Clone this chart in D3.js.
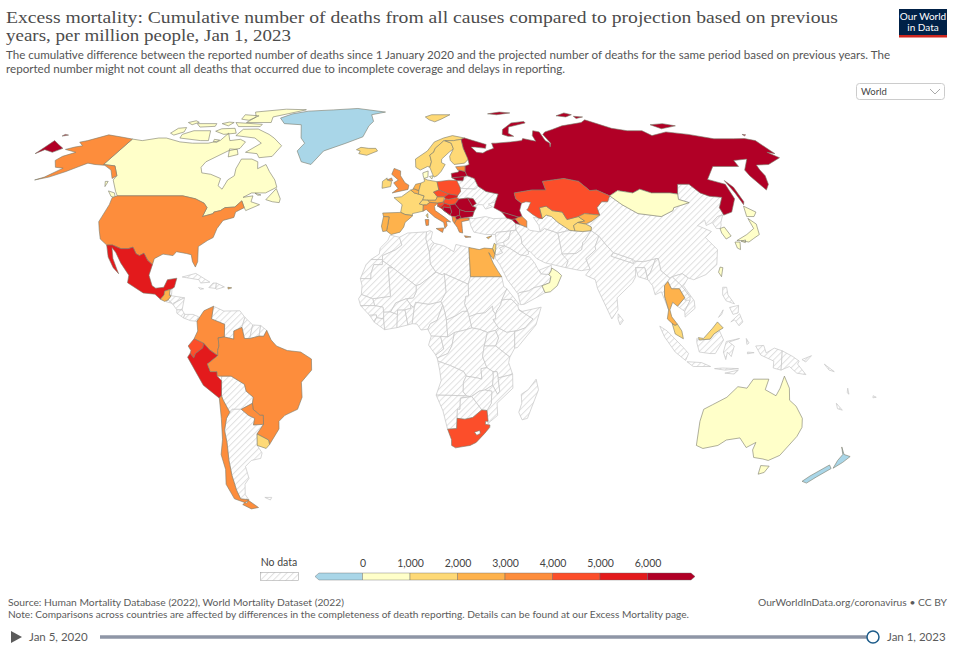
<!DOCTYPE html>
<html>
<head>
<meta charset="utf-8">
<script src="https://cdn.jsdelivr.net/npm/d3@7"></script>
<style>
  html, body { margin: 0; padding: 0; background: #fff; }
  text { font-family: Lato, sans-serif; }
</style>
</head>
<body>
<div id="chart"></div>
<script>
// Legend bins
var binEdges = [0, 1000, 2000, 3000, 4000, 5000, 6000];
var binColors = ["#a9d6e8", "#ffffc9", "#fed976", "#feb24c", "#fd8d3c", "#fc4e2a", "#e31a1c", "#b10026"];
var legendTicks = [0, 1000, 2000, 3000, 4000, 5000, 6000];

// Robinson table
var robLat = [0, 5, 10, 15, 20, 25, 30, 35, 40, 45, 50, 55, 60, 65, 70, 75, 80, 85, 90];
var robLen = [1, .9986, .9954, .99, .9822, .973, .96, .9427, .9216, .8962, .8679, .835, .7986, .7597, .7186, .6732, .6213, .5722, .5322];
var robDist = [0, .062, .124, .186, .248, .31, .372, .434, .4958, .5571, .6176, .6769, .7346, .7903, .8435, .8936, .9394, .9761, 1];

// Cumulative excess deaths per million, read off the colour bands. Not listed = no data
var countryNames = ["Canada", "USA", "Mexico", "Guatemala", "Puerto Rico", "Colombia", "Ecuador", "Peru", "Brazil", "Paraguay", "Uruguay", "Chile",
  "Greenland", "Iceland", "UK", "Ireland", "France", "Spain", "Portugal", "Belgium", "Netherlands", "Germany", "Denmark", "Switzerland", "Austria", "Italy",
  "Poland", "Czechia", "Slovakia", "Hungary", "Slovenia", "Croatia", "Bosnia", "Serbia", "Romania", "Bulgaria", "Macedonia", "Albania", "Greece",
  "Lithuania", "Latvia", "Estonia", "Moldova", "Norway", "Sweden", "Finland", "Russia", "Georgia", "Armenia", "Azerbaijan", "Cyprus", "Israel",
  "Kazakhstan", "Uzbekistan", "Kyrgyzstan", "Tajikistan", "Mongolia", "South Korea", "Japan", "Taiwan", "Thailand", "Malaysia", "Oman", "Egypt", "South Africa", "Australia", "New Zealand"];
var countryValues = [500, 3500, 5500, 2500, 2500, 3500, 4500, 5800, 3500, 3500, 1500, 3500,
  -300, 1500, 3500, 1500, 1500, 2500, 2500, 2500, 2500, 1500, 500, 1500, 2500, 3500,
  4500, 4500, 5500, 4500, 4500, 5500, 6500, 6500, 6500, 6500, 6500, 3500, 3500,
  6500, 6500, 3500, 6500, 1500, 1500, 1500, 6500, 6500, 6500, 3500, 2500, 1500,
  4500, 1500, 2500, 1500, 500, 500, 500, 500, 2500, 1500, 500, 2500, 4500, 500, -300];

// Outlines as lon/lat rings
var shapes = {
  Canada: [[[-141,69.6],[-135,69],[-128,70],[-124,70],[-115,68.5],[-108,68],[-100,68],[-95,69],[-94,72],[-90,69],[-85,69.5],[-81.5,68.5],[-82,66],[-87,65],[-94,61],[-94.5,59],[-92.5,57],[-88,56.5],[-82.5,55],[-82,52.5],[-79.5,51.3],[-79,54.5],[-77,56],[-78,58.5],[-78,62],[-73,62],[-69.5,61],[-68,58.5],[-65,60],[-62,57.5],[-58,54.5],[-56,52],[-60,50],[-66,50],[-69,48.5],[-65,49],[-65,47],[-61,46],[-66,44],[-67,45],[-69,47.3],[-71,45.2],[-75,45],[-76.5,44],[-79,43.5],[-79,43],[-83,42],[-82.5,45],[-84.5,46.5],[-89,48],[-95,49],[-123,49],[-125,50.5],[-130,54.5],[-130,56],[-135,59.5],[-141,60]],
    [[-80,73.7],[-72,71.5],[-68,70],[-62,67],[-64,63],[-70,62.5],[-72,64],[-78,64.5],[-73,68],[-78,70],[-89,71],[-88,73.6]],
    [[-117,70],[-105,69],[-101,69],[-105,73],[-114,73],[-118,71.5]],
    [[-125,72],[-122,71.2],[-118.5,72.5],[-120,74.3],[-124,74]],
    [[-117,76],[-106,76],[-105,74.8],[-113,74.5]],
    [[-123,76.5],[-119,75.5],[-117,76.6],[-120,77.3]],
    [[-100,73.8],[-93,74],[-90,72],[-96,71.5],[-102,72.8]],
    [[-96,76.5],[-80,75.7],[-80,74.7],[-92,74.7]],
    [[-103,76],[-98,75],[-97,76.5],[-100,76.7]],
    [[-90,76.5],[-76,76.5],[-78,79],[-65,82],[-62,82.8],[-75,83.1],[-92,81.5],[-88,79]],
    [[-96,80],[-87,79.5],[-90,77.5],[-95,78]],
    [[-87,65.8],[-83,65.6],[-81,63.7],[-85,62.8]],
    [[-98.5,69.5],[-95.5,69.2],[-96,68.3],[-98,68.6]],
    [[-59,47.7],[-56,51.5],[-53,48],[-53,46.7],[-56,47]],
    [[-64.5,49.9],[-61.7,49.3],[-63,49.2]],
    [[-128.3,50.7],[-125,50],[-123.4,48.4],[-125.5,48.8]],
    [[-133,54],[-131.7,54],[-131.3,52.2]]],
  USA: [[[-123,49],[-95,49],[-89,48],[-84.5,46.5],[-82.5,45],[-83,42],[-79,43],[-79,43.5],[-76.5,44],[-75,45],[-71,45.2],[-69,47.3],[-67,45],[-70,43.5],[-70,41.7],[-74,40.7],[-75.5,38],[-76,35],[-78,34],[-81,32],[-80,27],[-80.5,25.2],[-82,27],[-83,29.3],[-85,29.7],[-89,30.3],[-90,29],[-94,29.5],[-97,28],[-97.2,26],[-99.5,27.5],[-101.5,29.8],[-103,29],[-104.5,29.6],[-106.5,31.8],[-108.2,31.3],[-111,31.3],[-114.8,32.5],[-117.1,32.5],[-120.5,34.5],[-122.5,37.5],[-124.3,40.3],[-124,46],[-124.7,48.4]],
    [[-141,69.6],[-148,70.4],[-156.5,71.3],[-163,69],[-166,68.4],[-162,67],[-165,66.5],[-168,65.6],[-161,64.5],[-165,63],[-166,61.5],[-162,59],[-158,58.7],[-162,55.5],[-165,54.5],[-160,55.5],[-155,57.5],[-152,59],[-149,60.5],[-145,60],[-140,59.7],[-135,58],[-131,55],[-130,56],[-135,59.5],[-141,60]]],
  Mexico: [[[-117.1,32.5],[-114.8,32.5],[-111,31.3],[-108.2,31.3],[-106.5,31.8],[-104.5,29.6],[-103,29],[-101.5,29.8],[-99.5,27.5],[-97.2,26],[-97.8,22.5],[-96,19],[-94.5,18.2],[-91.5,18.5],[-90.5,21],[-87,21.5],[-87.5,18.5],[-88.3,18],[-89,17.8],[-91,17.2],[-91,16],[-92.2,14.5],[-94.5,16.2],[-99,16.6],[-105.5,20],[-105.5,22.5],[-109.5,26.5],[-112.5,30],[-114.7,31.7],[-113,28],[-110.5,24.5],[-109.5,23],[-112,25],[-115,28.5]]],
  Guatemala: [[[-92.2,14.5],[-91,16],[-91,17.2],[-89,17.8],[-89,15.8],[-88.3,15.7],[-89.3,14.3],[-90.5,13.8]]],
  Belize: [[[-89,17.8],[-88.3,18],[-88.2,16],[-89,15.8]]],
  Honduras: [[[-88.3,15.7],[-83.2,15],[-87.5,13],[-89.3,14.3]]],
  "El Salvador": [[[-90,13.7],[-89.3,14.3],[-87.8,13.2]]],
  Nicaragua: [[[-87.5,13],[-83.2,15],[-83.7,11],[-85.7,11]]],
  "Costa Rica": [[[-85.7,11],[-83.7,11],[-82.6,9.5],[-83,8.3],[-85.6,9.9]]],
  Panama: [[[-83,8.3],[-82.6,9.5],[-79.5,9.5],[-77.4,8.7],[-77.9,7.2],[-80.3,7.4]]],
  Cuba: [[[-85,21.9],[-80,23.1],[-74.2,20.2],[-77.7,19.9],[-78.5,21]]],
  Haiti: [[[-74.4,18.4],[-73,19.9],[-71.7,19.9],[-71.7,18.1]]],
  Dominican: [[[-71.7,19.9],[-68.5,18.6],[-71.5,17.8],[-71.7,18.1]]],
  Jamaica: [[[-78.3,18.4],[-76.3,18],[-77.5,17.8]]],
  "Puerto Rico": [[[-67.2,18.5],[-65.7,18.3],[-67,17.9]]],
  Colombia: [[[-77.9,7.2],[-75.5,10.7],[-72,12.2],[-72.5,8],[-67.5,6.2],[-67.5,2],[-69.8,1.7],[-69.5,-1],[-70,-2.5],[-70,-4.2],[-73,-2.3],[-75.2,-0.1],[-78.8,1.4],[-77.5,4]]],
  Venezuela: [[[-72,12.2],[-68,10.6],[-62,10.7],[-60,8.5],[-61,5.2],[-64,4],[-64,1.3],[-67.5,2],[-67.5,6.2],[-72.5,8]]],
  Guyana: [[[-60,8.5],[-57,6],[-58,1.5],[-60,1.5],[-61,5.2]]],
  Suriname: [[[-57,6],[-54,5.8],[-54.5,2.3],[-58,1.5]]],
  "French Guiana": [[[-54,5.8],[-51.7,4.2],[-52.8,2.2],[-54.5,2.3]]],
  Ecuador: [[[-78.8,1.4],[-75.2,-0.1],[-75.5,-1.6],[-78.3,-3.5],[-79,-5],[-80.3,-3.4],[-80,-2.5],[-81,-1]]],
  Peru: [[[-81.3,-4.7],[-80.3,-3.4],[-79,-5],[-78.3,-3.5],[-75.5,-1.6],[-75.2,-0.1],[-73,-2.3],[-70,-4.2],[-74,-7],[-73,-9.5],[-70.5,-9.5],[-70.5,-11],[-69,-12.5],[-69.5,-17.5],[-70.4,-18.3],[-76,-14],[-78.5,-9.5]]],
  Brazil: [[[-51.7,4.2],[-50,1],[-48,-1],[-44,-2.5],[-39,-3],[-35,-5.3],[-35,-9],[-39,-13],[-39,-18],[-41,-22],[-46,-24],[-48.5,-26],[-48.8,-28.5],[-53.4,-33.7],[-53.5,-32.2],[-57.6,-30.2],[-54.6,-27],[-54.3,-24],[-55.5,-24],[-58,-22],[-58,-20],[-57.5,-18],[-60,-16],[-60.5,-13.7],[-65.3,-11],[-69,-11],[-70.5,-11],[-70.5,-9.5],[-73,-9.5],[-74,-7],[-70,-4.2],[-70,-2.5],[-69.5,-1],[-69.8,1.7],[-67.5,2],[-64,1.3],[-64,4],[-61,5.2],[-60,1.5],[-58,1.5],[-54.5,2.3],[-52.8,2.2]]],
  Bolivia: [[[-69,-11],[-65.3,-11],[-60.5,-13.7],[-60,-16],[-57.5,-18],[-58,-20],[-62.5,-22],[-66,-22],[-67,-23],[-69,-19],[-69.5,-17.5],[-69,-12.5]]],
  Paraguay: [[[-58,-20],[-58,-22],[-55.5,-24],[-54.3,-24],[-54.6,-27],[-58.5,-27.2],[-57.7,-25],[-60,-24],[-62.5,-22]]],
  Uruguay: [[[-57.6,-30.2],[-53.5,-32.2],[-53.4,-33.7],[-55,-35],[-58.3,-34]]],
  Argentina: [[[-66,-22],[-62.5,-22],[-60,-24],[-57.7,-25],[-58.5,-27.2],[-54.6,-27],[-57.6,-30.2],[-58.3,-34],[-57,-36.5],[-58,-38.3],[-62,-39],[-65,-41],[-65,-45],[-67.5,-47],[-69,-50.5],[-68.4,-52.3],[-71.8,-52],[-72,-49],[-71.7,-44],[-71,-39],[-70,-33],[-70,-29],[-68.5,-25],[-67,-23]],
    [[-61,-51.5],[-58,-51.5],[-59,-52.4]]],
  Chile: [[[-69.5,-17.5],[-69,-19],[-67,-23],[-68.5,-25],[-70,-29],[-70,-33],[-71,-39],[-71.7,-44],[-72,-49],[-71.8,-52],[-68.4,-52.3],[-70,-53.5],[-74.5,-52],[-75.5,-47],[-73.5,-42],[-73.5,-37],[-71.5,-32],[-70.5,-25],[-70.4,-18.3]],
    [[-68.6,-52.6],[-65.5,-55],[-69,-55.5],[-72,-54],[-70,-53]]],
  Greenland: [[[-73,78.5],[-68,76],[-58,75.5],[-54,70],[-51,68],[-53,65],[-49,61],[-44,60],[-40,65],[-30,68],[-22,70.5],[-20,75],[-18,77],[-20,80],[-12,81.5],[-30,83.5],[-45,82.7],[-60,82],[-68,80.5]]],
  Iceland: [[[-24,65.5],[-22,66.4],[-18,66],[-14.5,66],[-13.5,65],[-18.5,63.4],[-22.5,64],[-22,65]]],
  UK: [[[-5.5,50],[1.3,51.2],[1.7,52.7],[0,53.5],[-2,56],[-2,57.7],[-5,58.6],[-6,56.5],[-3,54.5],[-5,53.5],[-3,51.5]], [[-6,55.2],[-8,54.5],[-5.5,54.2]]],
  Ireland: [[[-6,53.5],[-6.3,52.2],[-10,51.6],[-10,54],[-8,55.2],[-8,54.5],[-6,54]]],
  France: [[[-1.8,43.4],[-1.2,46],[-4.7,48.4],[-1.5,48.7],[2.5,51],[4,50],[5.8,49.6],[8.2,49],[7.5,47.6],[6,46.3],[7.7,45.9],[7.5,43.8],[3.1,43],[3,42.4],[0,42.7]], [[8.6,42.4],[9.4,43],[9.4,41.5]]],
  Spain: [[[-9.2,43.2],[-1.8,43.4],[0,42.7],[3.2,42.3],[0,40],[-0.5,38.5],[-2,36.8],[-5.5,36],[-7.4,37.2],[-7,39],[-6.5,41.9],[-8.8,42]]],
  Portugal: [[[-8.8,42],[-6.5,41.9],[-7,39],[-7.4,37.2],[-8.9,37],[-9.5,38.8]]],
  Belgium: [[[2.5,51],[4,51.4],[6,50.8],[5.8,49.6],[4,50]]],
  Netherlands: [[[3.5,51.4],[4.7,53],[7,53.4],[6,50.8],[4,51.4]]],
  Germany: [[[7,53.4],[8.7,54],[8.5,55],[10,54.5],[14.2,53.9],[14.7,51],[12.3,50.3],[13.8,48.7],[13,47.5],[9.6,47.5],[7.5,47.6],[8.2,49],[5.8,49.6],[6,50.8]]],
  Denmark: [[[8.1,57],[10.6,57.7],[10.3,55.5],[8.5,55],[8.2,56]], [[11,55.7],[12.6,56],[12,54.8]]],
  Switzerland: [[[6,46.3],[7.5,47.6],[9.6,47.5],[10.5,46.8],[9,45.9],[7.7,45.9]]],
  Austria: [[[9.6,47.5],[13,47.5],[13.8,48.7],[16.9,48.7],[16.2,46.9],[13.7,46.5],[10.5,46.8]]],
  Italy: [[[7.5,43.8],[7.7,45.9],[9,45.9],[10.5,46.8],[13.7,46.5],[12.3,45.4],[12.5,44],[16,41.9],[18.5,40.2],[16.8,40.4],[17,39],[16,38],[15.7,40],[12.2,41.8],[10.2,43.3],[8.8,44.4]], [[12.5,38],[15.6,38.2],[15,36.7]], [[8.2,41],[9.7,41],[9.5,39.1],[8.5,39]]],
  Poland: [[[14.2,53.9],[19.5,54.4],[23,54.3],[24,52],[24,50.5],[22.6,49.1],[18.8,49.6],[14.7,51]]],
  Czechia: [[[12.3,50.3],[14.7,51],[18.8,49.6],[16.9,48.7],[13.8,48.7]]],
  Slovakia: [[[16.9,48.7],[18.8,49.6],[22.6,49.1],[22.1,48.4],[18.5,47.8],[17,48]]],
  Hungary: [[[16.2,46.9],[17,48],[18.5,47.8],[22.1,48.4],[22.9,47.9],[21,46.2],[18.8,45.9],[16.5,46.5]]],
  Slovenia: [[[13.7,46.5],[16.2,46.9],[16.5,46.5],[15.4,45.5],[13.6,45.5]]],
  Croatia: [[[13.6,45.5],[15.4,45.5],[16.5,46.5],[18.8,45.9],[19,44.9],[16,45.2],[15.8,44.2],[18.5,42.5],[14.8,44.9]]],
  Bosnia: [[[16,45.2],[19,44.9],[19.3,43.5],[18.5,42.5],[15.8,44.2]]],
  Serbia: [[[18.8,45.9],[21,46.2],[22.7,44.3],[22.4,42.5],[20.6,41.9],[19.3,42],[18.5,42.5],[19.3,43.5],[19,44.9]]],
  Romania: [[[21,46.2],[22.9,47.9],[26.6,48.3],[28.2,45.5],[29.7,45],[28.6,43.7],[25,43.7],[22.7,44.3]]],
  Bulgaria: [[[22.7,44.3],[25,43.7],[28.6,43.7],[27.7,42],[22.9,41.4],[22.4,42.5]]],
  Macedonia: [[[20.6,41.9],[22.4,42.5],[22.9,41.4],[20.9,40.9]]],
  Albania: [[[19.3,42],[20.6,41.9],[20.9,40.9],[20,39.7],[19.4,40.5]]],
  Greece: [[[20,39.7],[20.9,40.9],[22.9,41.4],[26.2,41.5],[26,40.8],[23,40.3],[23,38],[23,36.5],[21.7,36.8],[21,38.4]], [[23.6,35.6],[26.2,35.2],[24,35]]],
  Lithuania: [[[21,55.3],[26.6,55.7],[25.7,54.2],[23,54.3]]],
  Latvia: [[[21,56.8],[24.3,57.3],[25,58],[27.5,57.5],[28,56],[26.6,55.7],[21,55.3]]],
  Estonia: [[[24.3,57.9],[23.5,59.2],[28,59.5],[27.5,57.5],[25,58]]],
  Belarus: [[[23,54.3],[25.7,54.2],[26.6,55.7],[28,56],[31,55],[32,52.3],[30.6,51.3],[24,51.6],[24,52]]],
  Ukraine: [[[24,52],[24,51.6],[30.6,51.3],[32,52.3],[35,50.5],[40,49.6],[38.2,47],[35,46.2],[36.5,45.3],[33.5,44.5],[32.5,46],[30.5,46],[29.7,45.3],[28.2,45.5],[29,48],[26.6,48.3],[22.9,47.9],[22.1,48.4],[22.6,49.1],[24,50.5]]],
  Moldova: [[[26.6,48.3],[29,48],[30,46.4],[28.2,45.5]]],
  Norway: [[[5,59],[5,62],[11,65],[15,68.5],[20,70],[25,71],[31,70],[29,69.5],[25,69],[20.7,69],[20,69],[15,66],[14,64.5],[12,63.5],[12.5,61],[11.5,59],[10.5,59.3],[7,58]], [[12,79],[16,80],[27,80],[21,78],[17,76.8],[14,77.7]]],
  Sweden: [[[11.5,59],[12.5,61],[12,63.5],[14,64.5],[15,66],[20,69],[23.5,68],[24,65.8],[21.5,64.5],[17.5,62],[17.2,60.7],[18.8,60],[16.5,57.5],[14.5,56],[13,55.5],[12.5,56.5]]],
  Finland: [[[23.5,68],[20.7,69],[25,69],[29,69.5],[29,66],[30,63],[31,62.5],[28,60.5],[23,60],[21.5,61.5],[21.5,63],[24,65.8]]],
  Russia: [[[31,70],[33,69.5],[41,67.5],[40,66],[35,66.5],[33,66.5],[35,64.5],[38,64.2],[40,65],[44,66],[44,68],[46,68],[54,68.5],[60,69],[61,69.8],[67,68.8],[67,71],[69,73],[72,72.5],[72,69],[73.5,68],[72.5,66.5],[74,68],[73,71.5],[75,72.5],[80,73.5],[87,75],[100,76.5],[104,77.7],[113,74],[120,73],[128,73],[130,71],[140,72.5],[150,71.5],[160,69.7],[170,69.7],[176,69.8],[180,69],[180,64],[177,64.5],[179.5,62.5],[170,60],[164,59.8],[163,58],[162.5,56],[160,53],[156.7,51],[155.5,56],[156,58],[163,62],[156,61.5],[155,59.3],[143,59.3],[135,54.7],[141,53],[140,48],[135,43.5],[131,42.5],[131,45],[135,48.5],[130,48.9],[127,50],[125,53],[120,53],[117,49.6],[114,50],[106,50],[102,51.3],[98,50],[92,50.8],[87.5,49],[83,51],[80,50.8],[77,54],[71,55],[61,54],[61,51],[55,51],[47,50],[47,48],[49,46.5],[47.5,44],[48,42],[46.5,41.8],[40,43.5],[37,45],[38.2,47],[40,49.6],[35,50.5],[32,52.3],[31,55],[28,56],[27.5,57.5],[28,59.5],[30,60],[30,62],[29,66],[29,69.5]],
    [[-180,69],[-175,67.5],[-170,66],[-172.5,64.5],[-178,65.5],[-180,64]],
    [[-180,71.5],[-177.5,71.2],[-180,70.8]],
    [[178.5,71.5],[180,71.3],[178.5,70.9]],
    [[51.5,71.5],[54,70.7],[57,70.7],[55,72],[57,74.5],[68,76.3],[68,77],[60,76.3],[53,73.5]],
    [[90,79.5],[97,81],[100,80],[95,79]],
    [[100,79.3],[105,79],[100,78.3]],
    [[137,75.5],[145,76],[150,75],[140,73.8]],
    [[142,54.3],[143.5,52],[143,47],[142,46],[142,50]],
    [[50,80.5],[58,81.5],[64,81],[55,80]]],
  Georgia: [[[40,43.5],[46.5,41.8],[45,41.2],[43.5,41],[41.5,41.5]]],
  Armenia: [[[43.5,41],[45,41.2],[46.5,39.3],[44.8,39.7]]],
  Azerbaijan: [[[45,41.2],[46.5,41.8],[48,42],[49.5,40.5],[49,38.4],[46.5,39.3]]],
  Turkey: [[[26.2,41.5],[28,41.3],[33,42],[36,41.3],[41.5,41.5],[43.5,41],[44.8,39.7],[44.5,37.5],[42.3,37.2],[36.5,36.7],[36,36],[32,36],[30.5,36.3],[27.5,36.8],[26.5,39]]],
  Cyprus: [[[32.3,35],[34.5,35.6],[33,34.6]]],
  Syria: [[[36,36],[36.5,36.7],[42.3,37.2],[41,34.5],[38.8,33.4],[36,33],[35.9,35]]],
  Israel: [[[34.2,31.3],[35.1,33.1],[35.7,32.7],[35.4,31],[34.9,29.5]]],
  Jordan: [[[34.9,29.5],[35.4,31],[35.7,32.7],[39,32.2],[37,31.5],[38,30],[36,29.2]]],
  Iraq: [[[39,32.2],[38.8,33.4],[41,34.5],[42.3,37.2],[44.5,37.5],[46,35],[46,33],[48,30.5],[48,29.5],[46.5,29],[44.7,29.2],[41,31.4]]],
  Saudi: [[[34.9,29.5],[36,29.2],[38,30],[37,31.5],[39,32.2],[41,31.4],[44.7,29.2],[46.5,29],[48.4,28.5],[50,26.5],[50.8,24.8],[52,23],[55,22.7],[55.7,22],[55,20],[52,19],[48.8,18.3],[46.8,17.3],[43.2,16.7],[42.7,16.3],[39,21],[36.5,26],[35,28]]],
  UAE: [[[51.5,24.2],[56.3,25.8],[56,24],[55,22.7],[52,23]]],
  Oman: [[[56,24],[56.3,24.9],[58.5,23.6],[59.8,22.4],[57.8,19],[55,17],[53,16.7],[52,19],[55,20],[55.7,22],[55,22.7]]],
  Yemen: [[[43.2,16.7],[46.8,17.3],[48.8,18.3],[52,19],[53,16.7],[45,12.9],[43.5,12.7],[42.7,16.3]]],
  Iran: [[[44.8,39.7],[46.5,39.3],[49,38.4],[50,37.4],[54,36.9],[56,38],[61,36.5],[61,31.5],[63,27.2],[61.7,25],[57,26],[54,26.6],[51,28],[48.8,30.3],[48,30.5],[46,33],[46,35],[44.5,37.5]]],
  Turkmenistan: [[[52.5,41.7],[54.5,41.5],[56,41.3],[58,42.5],[60,42],[62,40],[66,37.4],[61,36.5],[56,38],[54,36.9],[54,39]]],
  Uzbekistan: [[[56,45],[59,45.5],[61,44],[65,43.5],[66,41],[71,42],[73,40.5],[70,40],[68,39],[68,37.2],[66,37.4],[62,40],[60,42],[58,42.5],[56,41.3]]],
  Kazakhstan: [[[47,50],[47,48],[49,46.5],[51,47],[53,46.8],[51,44.5],[50.5,44.3],[52.5,42.7],[54.5,41.5],[56,41.3],[56,45],[59,45.5],[61,44],[65,43.5],[66,41],[71,42],[74,43],[80,42.5],[80,45],[83,47],[85.5,47],[87.5,49],[83,51],[80,50.8],[77,54],[71,55],[61,54],[61,51],[55,51]]],
  Kyrgyzstan: [[[71,42],[74,43],[80,42.5],[76,40.5],[73,39.5],[70,40],[73,40.5]]],
  Tajikistan: [[[68,39],[70,40],[73,39.5],[75,38.5],[74.5,37.3],[71,37],[68,37.2]]],
  Afghanistan: [[[61,36.5],[66,37.4],[68,37.2],[71,37],[74.5,37.3],[71,34],[70,33.3],[69,31],[66.5,29.7],[61,29.5],[61,31.5]]],
  Pakistan: [[[61,29.5],[66.5,29.7],[69,31],[70,33.3],[71,34],[74.5,37.3],[77,35.5],[74.5,32],[74.5,31],[70,28],[71,24.5],[67.5,24],[61.7,25],[63,27.2]]],
  India: [[[77,35.5],[79,32.5],[81,30],[80,28.8],[88,26.4],[88.8,27.2],[92,27],[97,28],[94,23.5],[92.5,22],[92,25],[88.5,25],[88,22],[86.5,20],[80,15],[80,11],[77.5,8],[73,18],[72.5,21],[69,22.5],[71,24.5],[70,28],[74.5,31],[74.5,32]]],
  Nepal: [[[81,30],[88,27.8],[88,26.4],[80,28.8]]],
  Bangladesh: [[[88.5,25],[92,25],[92.5,21],[89,22]]],
  "Sri Lanka": [[[80,9.7],[81.8,7.5],[80.5,6],[79.8,8]]],
  China: [[[73.7,39.5],[76,40.5],[80,42.5],[80,45],[83,47],[85.5,47],[87.5,49],[91,46],[96,43],[105,42],[111,44],[112,45],[119.7,46.7],[116,47.8],[117,49.6],[120,53],[125,53],[127,50],[130,48.9],[135,48.5],[131,45],[131,42.5],[128,42],[124.5,40],[121.5,39],[122,40.8],[118,39],[122.5,37],[119,35],[122,31],[120,26],[115,22.7],[110,21],[108,21.6],[106,23],[102,22],[101,21.5],[98,24],[98,28],[97,28],[92,27],[88.8,27.2],[88,27.8],[81,30],[79,32.5],[77,35.5],[74.5,37.3],[75,38.5]]],
  Mongolia: [[[87.5,49],[92,50.8],[98,50],[102,51.3],[106,50],[114,50],[117,49.6],[116,47.8],[119.7,46.7],[112,45],[111,44],[105,42],[96,43],[91,46]]],
  "North Korea": [[[124.5,40],[128,42],[130.5,42.5],[128,40],[127.5,39],[126.5,38],[125,38]]],
  "South Korea": [[[126.5,38],[128.5,38.5],[129.5,35.5],[127,34.5],[126.3,36.5]]],
  Japan: [[[131,34],[136,36],[140,38],[140,41.4],[142,39.5],[141,36],[138,34.7],[135.5,33.5],[132.5,34]], [[140,42],[141.5,45.5],[145,43.5],[143,42]], [[130,33.5],[132,33.5],[131,31],[130,31.5]], [[132.5,33.8],[134.5,34.2],[134,33.3]]],
  Taiwan: [[[121,25.2],[122,25],[120.8,22],[120,23.5]]],
  Myanmar: [[[92.5,21],[92.5,22],[94,23.5],[97,28],[98,28],[98,24],[101,21.5],[100,20.4],[98.5,19],[98,15.5],[99,11],[98,14],[97,17],[94.5,16],[94,19]]],
  Thailand: [[[98.5,19],[100,20.4],[101,18],[104,18],[105.5,15],[102.5,12.2],[100.8,13.5],[99.5,11],[100,8.7],[102,6.2],[101,5.8],[100,6.5],[98.3,8],[99,11],[98,15.5]]],
  Laos: [[[101,21.5],[102,22],[105,19],[107.5,15.5],[105.5,14.2],[105.5,15],[104,18],[101,18],[100,20.4]]],
  Cambodia: [[[102.5,12.2],[105.5,15],[105.5,14.2],[107.5,14.2],[105,10.5]]],
  Vietnam: [[[102,22],[106,23],[108,21.6],[105.7,19],[109,14],[109,11.5],[105,8.6],[105,10.5],[107.5,14.2],[107.5,15.5],[105,19]]],
  Malaysia: [[[100,6.5],[101,5.8],[102,6.2],[103.5,4],[104,1.4],[101,3]], [[109.6,1.8],[111.5,1.5],[115,4.9],[117,7],[119,5],[117.5,4.2],[115.5,3],[114,1.3],[110,1]]],
  Indonesia: [[[95.3,5.6],[98,4],[104,-1.5],[106,-3.5],[105,-5.8],[101,-3],[97,2]],
    [[105.5,-6.2],[111,-6.5],[114.5,-7.8],[108,-7.8]],
    [[109,1.5],[110,1],[114,1.3],[115.5,3],[117.5,4.2],[119,1],[116,-3.5],[114,-3.5],[110,-3],[109,0]],
    [[120,0.5],[125,1.5],[121,0.3],[123,-1],[122,-4.5],[120.5,-3],[120,-5.5],[119,-3]],
    [[131,-1],[134,-0.8],[135,-3.3],[138,-1.7],[141,-2.6],[141,-9],[138,-8.3],[138,-6],[133,-4]],
    [[116,-8.5],[119,-8.3],[125,-8.5],[120,-9]], [[120,-10],[123.5,-10.3],[125,-9]], [[127.5,1.5],[128.5,0],[127.7,-0.5]], [[128,-3],[130.5,-3.2],[128,-3.6]]],
  PNG: [[[141,-2.6],[145,-4.5],[147.5,-6],[147,-7],[150.5,-10.5],[147,-10],[144,-7.8],[141,-9]], [[148.5,-5.5],[152,-4.2],[150,-6.3]]],
  Philippines: [[[120.5,18.5],[122,18.5],[122,16],[124,13],[121,14],[120,16]], [[122,7],[125.5,9.7],[126.5,7],[125,5.7],[123.5,7.7]], [[122,11.8],[125.5,12.5],[125,10],[123,9.5]], [[117.5,8.5],[119.5,11],[118.8,9.5]]],
  Islands: [[[157,-7],[161,-9.5],[159,-9]], [[167,-15],[168,-17],[167.2,-16.5]], [[164,-20],[167,-22.3],[165,-21.8]], [[177.3,-17.5],[178.6,-18],[177.4,-18.2]]],
  Australia: [[[114,-22],[113.5,-26],[115,-34],[118,-35],[123.5,-34],[126,-32.2],[131,-31.5],[135,-34.7],[138,-33],[138,-35.5],[140,-38],[144,-38.5],[146.5,-39],[150,-37.3],[153,-31],[153.6,-28],[152.5,-25],[149,-21],[146,-19],[145,-15],[142.5,-11],[141.5,-15],[140.5,-17.5],[136,-15.5],[136.8,-12],[131,-12],[129,-15],[125.5,-14.5],[122,-18],[117,-20.5]], [[144.7,-40.7],[148.3,-40.9],[148,-43],[146,-43.6]]],
  "New Zealand": [[[172.7,-34.5],[175.5,-37],[178.5,-37.7],[177,-39.7],[175,-41.6],[174.5,-39],[175,-37]], [[172.5,-40.5],[174.3,-41.7],[171,-44.5],[169,-46.6],[166.5,-46],[168,-44.2]]],
  Morocco: [[[-5.9,35.8],[-2.2,35.1],[-1.2,32.5],[-3.7,30.9],[-8.7,29],[-8.7,27.7],[-13.2,27.7],[-10,29.5],[-9.7,31.5],[-6.8,34]]],
  "W. Sahara": [[[-8.7,27.7],[-13.2,27.7],[-15,26],[-17,21.4],[-13,21.3],[-13,23],[-12,26],[-8.7,26]]],
  Algeria: [[[-2.2,35.1],[1,36.5],[8.6,36.9],[8.3,34.5],[9.5,30.2],[9.8,26.2],[11.9,23.5],[5.8,19.5],[4.2,19],[-4.8,25],[-8.7,27.3],[-8.7,29],[-3.7,30.9],[-1.2,32.5]]],
  Tunisia: [[[8.6,36.9],[10,37.3],[11,36.9],[10.2,34.3],[11.5,33.1],[10.3,31.7],[9.5,30.2],[8.3,34.5]]],
  Libya: [[[11.5,33.1],[15.2,32.3],[19,30.3],[20,32.7],[25,31.7],[25,22],[24,19.5],[15,23],[14.2,22.6],[11.9,23.5],[9.8,26.2],[9.5,30.2],[10.3,31.7]]],
  Egypt: [[[25,31.7],[29,31],[31,31.5],[34.2,31.3],[34.9,29.5],[34.3,27.8],[33.5,28.5],[32.6,30],[34,26.5],[35.5,24],[36.9,22],[25,22]]],
  Sudan: [[[25,22],[36.9,22],[37.5,18.7],[38.6,18],[36.5,14.3],[36,12.7],[34.5,10.8],[34,9.5],[33,10.8],[32.9,12.2],[30,10],[27,9.7],[24,8.7],[23.5,10.5],[22.4,13],[22.9,15.5],[24,15.7],[24,19.5]]],
  "South Sudan": [[[24,8.7],[27,9.7],[30,10],[32.9,12.2],[33,10.8],[34,9.5],[34,8],[33,7.8],[35,5],[33.9,4.2],[30.8,3.5],[28,4.5],[25,5]]],
  Chad: [[[15,23],[24,19.5],[24,15.7],[22.9,15.5],[22.4,13],[23.5,10.5],[21.7,10.5],[19,9],[15.5,7.6],[15,10],[14.2,12.5],[13.5,13.7],[15.5,16.9]]],
  Niger: [[[11.9,23.5],[14.2,22.6],[15,23],[15.5,16.9],[13.5,13.7],[9,12.8],[4,13.5],[3.5,11.7],[2.2,12.5],[0.5,14.7],[3.2,15],[4.2,17],[4.2,19],[5.8,19.5]]],
  Mali: [[[-4.8,25],[4.2,19],[4.2,17],[3.2,15],[0.5,14.7],[-3.5,13.3],[-5.4,10.3],[-8,10.2],[-8.3,11.9],[-11.4,12.4],[-12.2,14.7],[-5.5,15.5],[-6.5,25]]],
  Mauritania: [[[-17,21.4],[-16.3,19],[-16.5,16.1],[-12.2,14.7],[-5.5,15.5],[-6.5,25],[-4.8,25],[-8.7,27.3],[-8.7,26],[-12,26],[-13,23],[-13,21.3]]],
  Senegal: [[[-16.5,16.1],[-17.5,14.7],[-16.7,12.4],[-11.4,12.4],[-12.2,14.7]]],
  Guinea: [[[-16.7,12.4],[-13.3,9.2],[-10.7,9.3],[-10.7,8.4],[-8,8],[-8,10.2],[-8.3,11.9],[-11.4,12.4]]],
  "Sierra Leone": [[[-13.3,9.2],[-11.5,6.9],[-10.7,8.4],[-10.7,9.3]]],
  Liberia: [[[-11.5,6.9],[-7.6,4.4],[-8,8],[-10.7,8.4]]],
  "Ivory Coast": [[[-7.6,4.4],[-3,5.1],[-2.8,9.5],[-5.4,10.3],[-8,10.2],[-8,8]]],
  Ghana: [[[-3,5.1],[1.1,6],[0,11],[-2.8,11]]],
  Burkina: [[[-5.4,10.3],[-2.8,9.5],[-2.8,11],[0,11],[2.2,11.5],[2.2,12.5],[0.5,14.7],[-3.5,13.3]]],
  Benin: [[[1.1,6],[2.7,6.4],[3.5,11.7],[2.2,12.5],[2.2,11.5],[0,11]]],
  Nigeria: [[[2.7,6.4],[4.5,6.3],[6,4.3],[8.5,4.6],[9.5,6.4],[12,7.5],[13.5,11],[14.2,12.5],[13.5,13.7],[9,12.8],[4,13.5],[3.5,11.7]]],
  Cameroon: [[[8.5,4.6],[9.8,2.3],[16,2],[15.5,7.6],[15,10],[14.2,12.5],[13.5,11],[12,7.5],[9.5,6.4]]],
  CAR: [[[15.5,7.6],[16,2],[18.5,3.5],[22,4.2],[25,5],[24,8.7],[23.5,10.5],[21.7,10.5],[19,9]]],
  Gabon: [[[9.8,2.3],[13.3,2.2],[14.5,-2],[11.5,-4],[8.8,-0.7]]],
  Congo: [[[13.3,2.2],[16,2],[18.5,3.5],[17.5,-1],[16,-3.5],[12,-5],[11.5,-4],[14.5,-2]]],
  DRC: [[[18.5,3.5],[22,4.2],[25,5],[28,4.5],[30.8,3.5],[29.6,-1],[29,-4.5],[30.7,-8.2],[28.5,-8.5],[28.9,-12],[27.2,-11.6],[23,-11],[22,-9.5],[17,-7.5],[12.3,-6],[12,-5],[16,-3.5],[17.5,-1]]],
  Angola: [[[12.3,-6],[17,-7.5],[22,-9.5],[23,-11],[22,-13],[22,-16.2],[23.4,-17.6],[18.5,-17.4],[11.8,-17.3],[13.6,-12.5],[13,-9]]],
  Uganda: [[[30.8,3.5],[33.9,4.2],[35,1.7],[33.9,-1],[29.6,-1]]],
  Kenya: [[[33.9,4.2],[35,5],[38,3.6],[41,4],[41,-1.7],[39.2,-4.7],[33.9,-1],[35,1.7]]],
  Ethiopia: [[[36,12.7],[36.5,14.3],[38.6,14.5],[40.2,14.5],[42.4,12.4],[42.8,11],[48,8],[44.9,5],[41.9,4],[41,4],[38,3.6],[35,5],[33,7.8],[34,8],[34,9.5],[34.5,10.8]]],
  Eritrea: [[[36.5,14.3],[38.6,18],[43,12.8],[42.4,12.4],[40.2,14.5],[38.6,14.5]]],
  Somalia: [[[42.8,11],[44,10.5],[51.2,11.9],[49,6],[42,-1.5],[41,-1.7],[41,4],[41.9,4],[44.9,5],[48,8]]],
  Tanzania: [[[33.9,-1],[39.2,-4.7],[38.8,-6.5],[40.4,-10.4],[35,-11.6],[34.5,-9.5],[33,-9.5],[30.7,-8.2],[29,-4.5],[29.6,-1]]],
  Zambia: [[[28.5,-8.5],[30.7,-8.2],[33,-9.5],[33.2,-11],[33,-14],[30.2,-15.6],[28,-16],[25,-17.8],[23.4,-17.6],[22,-16.2],[22,-13],[23,-11],[27.2,-11.6],[28.9,-12]]],
  Malawi: [[[33,-9.5],[34.5,-9.5],[35,-11.6],[35.8,-16],[35,-17],[33,-14],[33.2,-11]]],
  Mozambique: [[[40.4,-10.4],[40.7,-15],[35,-20],[35.5,-24],[32.9,-26],[32,-26.8],[31.3,-22.4],[32.8,-20],[32.8,-16],[30.2,-15.6],[33,-14],[35,-17],[35.8,-16],[35,-11.6]]],
  Zimbabwe: [[[30.2,-15.6],[32.8,-16],[32.8,-20],[31.3,-22.4],[29.3,-22.2],[25.3,-17.8],[28,-16]]],
  Namibia: [[[11.8,-17.3],[18.5,-17.4],[23.4,-17.6],[25,-17.8],[21,-18.3],[21,-22],[20,-22],[20,-28.4],[16.5,-28.6],[14.5,-22.5]]],
  Botswana: [[[20,-22],[21,-22],[21,-18.3],[25.3,-17.8],[29.3,-22.2],[26,-24.7],[23,-25.3],[20,-25]]],
  "South Africa": [[[16.5,-28.6],[20,-28.4],[20,-25],[23,-25.3],[26,-24.7],[29.3,-22.2],[31.3,-22.4],[32,-26],[31,-26],[31,-27],[32.8,-27.2],[32.8,-28],[31,-30],[28,-33],[25.7,-34],[20,-34.8],[18.4,-34],[18.2,-32]],
    [[27,-29.6],[29,-29],[29.3,-30],[28,-30.6]]],
  Madagascar: [[[49.3,-12],[50.4,-15.5],[47,-25],[45,-25.5],[43.5,-23],[44.4,-20],[44,-17],[46.5,-15.5]]]
};

var width = 962;
var height = 648;

var svg = d3.select("#chart").append("svg")
  .attr("width", width)
  .attr("height", height)
  .style("display", "block");

// Hatch for no data
var defs = svg.append("defs");
var hatch = defs.append("pattern")
  .attr("id", "nodata")
  .attr("patternUnits", "userSpaceOnUse")
  .attr("width", 4.5)
  .attr("height", 4.5)
  .attr("patternTransform", "rotate(45)");
hatch.append("rect").attr("width", 4.5).attr("height", 4.5).attr("fill", "#fff");
hatch.append("line").attr("x1", 0).attr("y1", 0).attr("x2", 0).attr("y2", 4.5).attr("stroke", "#e0e0e0").attr("stroke-width", 2);

// Map projection, Robinson through linear scales
var mapX = d3.scaleLinear().domain([-180, 180]).range([405 - 482, 405 + 482]);
var mapY = d3.scaleLinear().domain([-1, 1]).range([343 + 243, 343 - 243]);
var latLen = d3.scaleLinear().domain(robLat).range(robLen);
var latDist = d3.scaleLinear().domain(robLat).range(robDist);

var robinson = d3.geoTransform({
  point: function(lon, lat) {
    var a = Math.abs(lat);
    var sign = lat < 0 ? -1 : 1;
    this.stream.point(mapX(0) + (mapX(lon) - mapX(0)) * latLen(a), mapY(sign * latDist(a)));
  }
});
var path = d3.geoPath(robinson);

var color = d3.scaleThreshold().domain(binEdges).range(binColors);

function toFeature(name) {
  var i = countryNames.indexOf(name);
  return {
    type: "Feature",
    properties: { name: name, value: i < 0 ? null : countryValues[i] },
    geometry: {
      type: "MultiPolygon",
      coordinates: shapes[name].map(function(r) { return [r.concat([r[0]])]; })
    }
  };
}
var features = Object.keys(shapes).map(toFeature);

var map = svg.append("g").attr("class", "map");
map.selectAll("path.none")
  .data(features.filter(function(d) { return d.properties.value === null; }))
  .join("path")
  .attr("class", "none")
  .attr("d", path)
  .attr("fill", "url(#nodata)")
  .attr("fill-rule", "evenodd")
  .attr("stroke", "#c6c6c6")
  .attr("stroke-width", 0.7)
  .attr("stroke-linejoin", "round");
map.selectAll("path.val")
  .data(features.filter(function(d) { return d.properties.value !== null; }))
  .join("path")
  .attr("class", "val")
  .attr("d", path)
  .attr("fill", function(d) { return color(d.properties.value); })
  .attr("fill-rule", "evenodd")
  .attr("stroke", "#7a7a6a")
  .attr("stroke-width", 0.6)
  .attr("stroke-linejoin", "round");

// Title block
var title = svg.append("g").attr("fill", "#4c4c4c");
title.append("text").attr("x", 6).attr("y", 23)
  .style("font-family", "'Liberation Serif', serif").style("font-size", "17px")
  .attr("textLength", 832).attr("lengthAdjust", "spacingAndGlyphs")
  .text("Excess mortality: Cumulative number of deaths from all causes compared to projection based on previous");
title.append("text").attr("x", 6).attr("y", 41)
  .style("font-family", "'Liberation Serif', serif").style("font-size", "17px")
  .attr("textLength", 285).attr("lengthAdjust", "spacingAndGlyphs")
  .text("years, per million people, Jan 1, 2023");

var subtitle = svg.append("g").attr("fill", "#555").style("font-size", "11.5px");
subtitle.append("text").attr("x", 6).attr("y", 59).attr("textLength", 884).attr("lengthAdjust", "spacingAndGlyphs")
  .text("The cumulative difference between the reported number of deaths since 1 January 2020 and the projected number of deaths for the same period based on previous years. The");
subtitle.append("text").attr("x", 6).attr("y", 73).attr("textLength", 559).attr("lengthAdjust", "spacingAndGlyphs")
  .text("reported number might not count all deaths that occurred due to incomplete coverage and delays in reporting.");

// Logo
var logo = svg.append("g");
logo.append("rect").attr("x", 899).attr("y", 9).attr("width", 48).attr("height", 28).attr("fill", "#002147");
logo.append("rect").attr("x", 899).attr("y", 35).attr("width", 48).attr("height", 2.5).attr("fill", "#ce261e");
logo.append("text").attr("x", 923).attr("y", 20).attr("text-anchor", "middle").attr("fill", "#fff").style("font-size", "10px").text("Our World");
logo.append("text").attr("x", 923).attr("y", 31).attr("text-anchor", "middle").attr("fill", "#fff").style("font-size", "10px").text("in Data");

// Dropdown
var drop = svg.append("g");
drop.append("rect").attr("x", 856.5).attr("y", 83.5).attr("width", 88).attr("height", 16).attr("rx", 3)
  .attr("fill", "#fff").attr("stroke", "#ccc");
drop.append("text").attr("x", 861).attr("y", 95).attr("fill", "#444").style("font-size", "9.5px").text("World");
drop.append("path").attr("d", "M930,89 L935,94 L940,89").attr("fill", "none").attr("stroke", "#aaa").attr("stroke-width", 1);

// Legend
var legendX = d3.scaleLinear().domain([-1000, 7000]).range([315, 695]);
var legendTop = 573;
var legendBottom = 580;
var legend = svg.append("g");
var bins = d3.range(binColors.length);
legend.selectAll("path.bin").data(bins).join("path")
  .attr("class", "bin")
  .attr("d", function(i) {
    var a = legendX(-1000 + i * 1000);
    var b = legendX(i * 1000);
    var mid = (legendTop + legendBottom) / 2;
    if (i === 0) return "M" + a + "," + mid + "L" + (a + 4) + "," + legendTop + "L" + b + "," + legendTop + "L" + b + "," + legendBottom + "L" + (a + 4) + "," + legendBottom + "Z";
    if (i === bins.length - 1) return "M" + a + "," + legendTop + "L" + (b - 4) + "," + legendTop + "L" + b + "," + mid + "L" + (b - 4) + "," + legendBottom + "L" + a + "," + legendBottom + "Z";
    return "M" + a + "," + legendTop + "L" + b + "," + legendTop + "L" + b + "," + legendBottom + "L" + a + "," + legendBottom + "Z";
  })
  .attr("fill", function(i) { return binColors[i]; })
  .attr("stroke", "#666")
  .attr("stroke-width", 0.4);

var legendAxis = d3.axisTop(legendX).tickValues(legendTicks).tickSize(0).tickPadding(6).tickFormat(d3.format(","));
var axisG = legend.append("g").attr("transform", "translate(0," + legendTop + ")").call(legendAxis);
axisG.select(".domain").remove();
axisG.selectAll("text").style("font-family", "Lato, sans-serif").style("font-size", "10.5px").attr("fill", "#444");

legend.append("text").attr("x", 279).attr("y", 566).attr("text-anchor", "middle").attr("fill", "#444").style("font-size", "10.5px").text("No data");
legend.append("rect").attr("x", 260.5).attr("y", 572.5).attr("width", 38).attr("height", 8)
  .attr("fill", "url(#nodata)").attr("stroke", "#999").attr("stroke-width", 0.5);

// Footer
var foot = svg.append("g").attr("fill", "#5b5b5b").style("font-size", "10px");
foot.append("text").attr("x", 8).attr("y", 605.5).attr("textLength", 336).attr("lengthAdjust", "spacingAndGlyphs")
  .text("Source: Human Mortality Database (2022), World Mortality Dataset (2022)");
foot.append("text").attr("x", 8).attr("y", 617.5).attr("textLength", 681).attr("lengthAdjust", "spacingAndGlyphs")
  .text("Note: Comparisons across countries are affected by differences in the completeness of death reporting. Details can be found at our Excess Mortality page.");
foot.append("text").attr("x", 758).attr("y", 605.5).attr("textLength", 189).attr("lengthAdjust", "spacingAndGlyphs")
  .text("OurWorldInData.org/coronavirus • CC BY");

// Timeline
var timeline = svg.append("g");
timeline.append("path").attr("d", "M11,631 L22,637 L11,643 Z").attr("fill", "#5b5b5b");
timeline.append("text").attr("x", 29).attr("y", 641).attr("fill", "#5b5b5b").style("font-size", "11.5px").text("Jan 5, 2020");
timeline.append("line").attr("x1", 100).attr("x2", 870).attr("y1", 637).attr("y2", 637).attr("stroke", "#8f96a6").attr("stroke-width", 3.5);
timeline.append("circle").attr("cx", 873).attr("cy", 637).attr("r", 6).attr("fill", "#fff").attr("stroke", "#1d5c8a").attr("stroke-width", 1.5);
timeline.append("text").attr("x", 887).attr("y", 641).attr("fill", "#5b5b5b").style("font-size", "11.5px").text("Jan 1, 2023");
</script>
</body>
</html>
